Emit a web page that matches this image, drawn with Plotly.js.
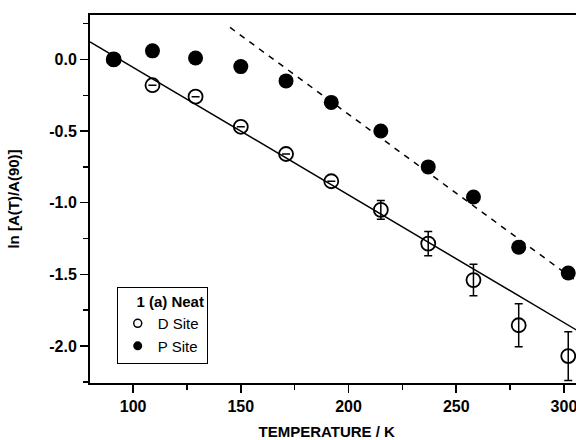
<!DOCTYPE html>
<html>
<head>
<meta charset="utf-8">
<script src="https://cdn.plot.ly/plotly-3.0.1.min.js"></script>
<style>html,body{margin:0;padding:0;background:#fff;}#chart{width:576px;height:440px;}</style>
</head>
<body>
<div id="chart"></div>
<script>
// Temperatures (K)
var tempP = [91, 109, 129, 150, 171, 192, 215, 237, 258, 279, 302];
var lnP   = [0.0, 0.06, 0.01, -0.05, -0.15, -0.30, -0.50, -0.75, -0.96, -1.31, -1.49];

var tempD = [91, 109, 129, 150, 171, 192, 215, 237, 258, 279, 302];
var lnD   = [0.0, -0.18, -0.26, -0.47, -0.66, -0.85, -1.05, -1.285, -1.54, -1.855, -2.07];
var errD  = [0, 0, 0, 0, 0, 0, 0.065, 0.085, 0.11, 0.15, 0.17];

// Linear fits
var fitDX = [80, 306];
var fitDY = [0.123, -1.89];
var fitPX = [145, 306];
var fitPY = [0.223, -1.55];

var legendTitle = "1 (a) Neat";
var nameD = "D Site";
var nameP = "P Site";

var xTitle = "TEMPERATURE / K";
var yTitle = "ln [A(T)/A(90)]";

var xTickVals = [100, 150, 200, 250, 300];
var xTickText = ['100', '150', '200', '250', '300'];
var yTickVals = [0, -0.5, -1, -1.5, -2];
var yTickText = ['0.0', '-0.5', '-1.0', '-1.5', '-2.0'];

var traces = [
  {x: fitDX, y: fitDY, mode: 'lines', line: {color: '#000', width: 1.5}, showlegend: false, hoverinfo: 'skip'},
  {x: fitPX, y: fitPY, mode: 'lines', line: {color: '#000', width: 1.5, dash: '6px,6px'}, showlegend: false, hoverinfo: 'skip'},
  {x: tempD, y: lnD, mode: 'markers', showlegend: false,
   marker: {symbol: 'circle-open', size: 14, color: '#000', line: {width: 1.8, color: '#000'}},
   error_y: {type: 'data', array: errD, visible: true, color: '#000', thickness: 1.5, width: 4}},
  {x: tempP, y: lnP, mode: 'markers', showlegend: false,
   marker: {symbol: 'circle', size: 15, color: '#000'}},
  {x: [null], y: [null], mode: 'markers', name: nameD,
   marker: {symbol: 'circle-open', size: 8, color: '#000', line: {width: 1.5, color: '#000'}}},
  {x: [null], y: [null], mode: 'markers', name: nameP,
   marker: {symbol: 'circle', size: 9, color: '#000'}}
];

var layout = {
  width: 576, height: 440,
  margin: {l: 90, r: 0, t: 15, b: 57},
  paper_bgcolor: '#fff', plot_bgcolor: '#fff',
  font: {family: 'Liberation Sans, Arial, sans-serif', color: '#000', size: 15},
  showlegend: true,
  legend: {
    x: 0.055, y: 0.262, xanchor: 'left', yanchor: 'top',
    bordercolor: '#000', borderwidth: 1, bgcolor: '#fff',
    font: {size: 15, color: '#000'},
    title: {text: '&nbsp;&nbsp;&nbsp;&nbsp;<b>' + legendTitle + '</b>', font: {size: 15}},
    tracegroupgap: 0, itemwidth: 30
  },
  xaxis: {
    range: [80, 305.6], showgrid: false, zeroline: false,
    showline: true, linecolor: '#000', linewidth: 2, mirror: true,
    ticks: 'outside', ticklen: 8, tickwidth: 1.5, tickcolor: '#000',
    tickvals: xTickVals,
    ticktext: xTickText.map(function(t){return '<b>' + t + '</b>';}),
    ticklabeloverflow: 'allow',
    minor: {dtick: 25, tick0: 0, ticks: 'outside', ticklen: 5, tickwidth: 1.5, tickcolor: '#000'},
    tickfont: {size: 16},
    title: {text: '<b>' + xTitle + '</b>&nbsp;&nbsp;&nbsp;', font: {size: 15}, standoff: 12}
  },
  yaxis: {
    range: [-2.258, 0.31], showgrid: false, zeroline: false,
    showline: true, linecolor: '#000', linewidth: 2, mirror: false,
    ticks: 'outside', ticklen: 8, tickwidth: 1.5, tickcolor: '#000',
    tickvals: yTickVals,
    ticktext: yTickText.map(function(t){return '<b>' + t + '</b>';}),
    minor: {dtick: 0.25, tick0: 0, ticks: 'outside', ticklen: 5, tickwidth: 1.5, tickcolor: '#000'},
    tickfont: {size: 16},
    title: {text: '<b>' + yTitle + '</b>', font: {size: 15}, standoff: 26}
  }
};

Plotly.newPlot('chart', traces, layout, {displayModeBar: false, staticPlot: true});
</script>
</body>
</html>
